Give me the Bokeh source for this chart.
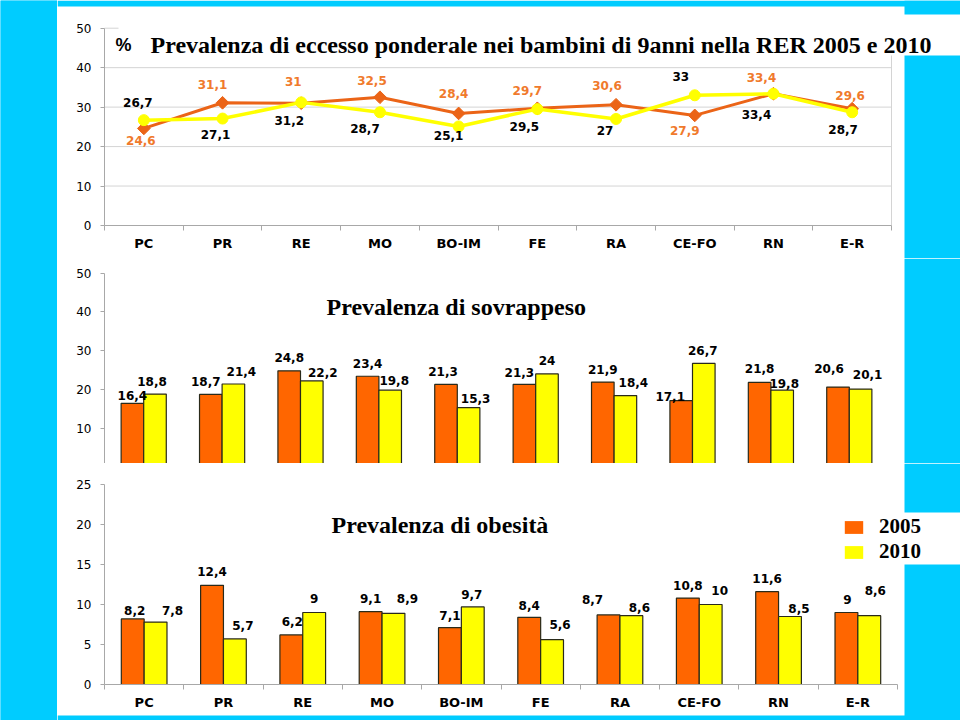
import numpy as np
from bokeh.plotting import figure
from bokeh.models import Range1d, LinearAxis, FixedTicker, Label, Legend, LegendItem
from bokeh.layouts import row, column
from bokeh.embed import file_html
from bokeh.resources import INLINE
from bokeh.core.properties import value

# ---------------- data ----------------
categories = ["PC", "PR", "RE", "MO", "BO-IM", "FE", "RA", "CE-FO", "RN", "E-R"]
years = ["2005", "2010"]
eccesso_2005 = [24.6, 31.1, 31, 32.5, 28.4, 29.7, 30.6, 27.9, 33.4, 29.6]
eccesso_2010 = [26.7, 27.1, 31.2, 28.7, 25.1, 29.5, 27, 33, 33.4, 28.7]
sovrappeso_2005 = [16.4, 18.7, 24.8, 23.4, 21.3, 21.3, 21.9, 17.1, 21.8, 20.6]
sovrappeso_2010 = [18.8, 21.4, 22.2, 19.8, 15.3, 24, 18.4, 26.7, 19.8, 20.1]
obesita_2005 = [8.2, 12.4, 6.2, 9.1, 7.1, 8.4, 8.7, 10.8, 11.6, 9]
obesita_2010 = [7.8, 5.7, 9, 8.9, 9.7, 5.6, 8.6, 10, 8.5, 8.6]
ticks_top = [0, 10, 20, 30, 40, 50]
ticks_mid = [0, 10, 20, 30, 40, 50]
ticks_bot = [0, 5, 10, 15, 20, 25]
title_top = "Prevalenza di eccesso ponderale nei bambini di 9anni nella RER 2005 e 2010"
title_mid = "Prevalenza di sovrappeso"
title_bot = "Prevalenza di obesità"

# ---------------- label offsets (style, px; dy positive = down) ----------------
off_top_2005 = [(-3, 12), (-10, -18), (-8, -22), (-8, -17), (-5, -20), (-10, -18), (-9, -19), (-10, 15), (-12, -16), (-2, -13)]
off_top_2010 = [(-6, -18), (-7, 16), (-12, 18), (-15, 16), (-10, 9), (-13, 17), (-11, 12), (-14, -19), (-17, 21), (-9, 17)]
off_mid_2005 = [(0, -8), (-5, -13), (0, -13), (0, -13), (-3, -13), (-5, -12), (0, -13), (-11, -4), (0, -14), (-9, -19)]
off_mid_2010 = [(-3, -13), (8, -12), (11, -8), (4, -10), (7, -9), (0, -13), (8, -13), (-1, -13), (2, -7), (7, -15)]
off_bot_2005 = [(2, -8), (0, -14), (1, -13), (0, -13), (0, -12), (0, -12), (-16, -15), (0, -13), (0, -13), (1, -13)]
off_bot_2010 = [(17, -12), (8, -13), (0, -14), (14, -15), (-1, -12), (8, -15), (8, -8), (9, -14), (9, -8), (6, -25)]

CYAN = "#00CCFF"
ORANGE = "#FF6600"
YELLOW = "#FFFF00"
ORANGE_LINE = "#EB6417"
ORANGE_TEXT = "#F07A2C"
OUTLINE = "#2A2A1A"
GRID = "#D4D4D4"
AXIS = "#A8A8A8"
SANS = "DejaVu Sans"
SERIF = "Liberation Serif"

W_PAGE, H_PAGE = 960, 720
STRIP_W = 57
AXIS_X = 104

n = len(categories)
xs = np.arange(1, n + 1)
bounds_x = (0.5, n + 0.5)


def fmt(v):
    return ("%g" % v).replace(".", ",")


def make_fig(top, bottom, zero, k, catw):
    fig = figure(width=W_PAGE - STRIP_W, height=bottom - top,
                 x_range=Range1d(0.5 - (AXIS_X - STRIP_W) / catw, 0.5 + (W_PAGE - AXIS_X) / catw),
                 y_range=Range1d((zero - bottom) / k, (zero - top) / k),
                 x_axis_type=None, y_axis_type=None, toolbar_location=None,
                 output_backend="svg", min_border=0,
                 background_fill_color="white", border_fill_color="white",
                 outline_line_color=None)
    fig.extra_x_ranges = {"px": Range1d(STRIP_W, W_PAGE)}
    fig.extra_y_ranges = {"px": Range1d(bottom, top)}
    return fig


def add_yaxis(fig, ticks):
    ax = LinearAxis(ticker=FixedTicker(ticks=ticks), bounds=(ticks[0], ticks[-1]),
                    fixed_location=bounds_x[0],
                    axis_line_color=AXIS, major_tick_line_color=AXIS,
                    major_tick_out=4, major_tick_in=0, minor_tick_line_color=None,
                    major_label_text_font=SANS, major_label_text_font_size="12px",
                    major_label_text_color="black", major_label_standoff=9)
    fig.add_layout(ax, "left")


def add_xaxis(fig):
    ax = LinearAxis(ticker=FixedTicker(ticks=list(xs), minor_ticks=list(np.arange(0.5, n + 1, 1.0))),
                    bounds=bounds_x, fixed_location=0,
                    major_label_overrides={int(x): c for x, c in zip(xs, categories)},
                    major_tick_line_color=None, minor_tick_out=5, minor_tick_in=0,
                    minor_tick_line_color=AXIS, axis_line_color=AXIS,
                    major_label_text_font=SANS, major_label_text_font_style="bold",
                    major_label_text_font_size="13px", major_label_text_color="black",
                    major_label_standoff=4)
    fig.add_layout(ax, "below")


def add_labels(fig, x, vals, offs, color):
    fig.text(x=list(x), y=vals, text=[fmt(v) for v in vals],
             x_offset=[o[0] for o in offs], y_offset=[o[1] for o in offs],
             text_align="center", text_baseline="middle",
             text_font=value(SANS), text_font_style="bold", text_font_size="12px",
             text_color=color)


def add_bars(fig, x, vals, color, W):
    r = fig.vbar(x=list(x), top=vals, bottom=0, width=W, fill_color=color, line_color=None)
    fig.vbar(x=list(x), top=vals, bottom=0, width=W, fill_color=None,
             line_color=OUTLINE, line_width=1.2)
    return r


def add_title(fig, x, y, text):
    fig.add_layout(Label(x=x, y=y, x_range_name="px", y_range_name="px", text=text,
                         text_font=SERIF, text_font_style="bold", text_font_size="24px",
                         text_baseline="alphabetic", text_align="left", text_color="black"))


def px_quad(fig, l, r, t, b, color):
    fig.quad(left=l, right=r, top=t, bottom=b, x_range_name="px", y_range_name="px",
             fill_color=color, line_color=None)


# ---------------- left cyan strip ----------------
strip = figure(width=STRIP_W, height=H_PAGE, x_range=Range1d(0, 1), y_range=Range1d(0, 1),
               x_axis_type=None, y_axis_type=None, toolbar_location=None,
               output_backend="svg", min_border=0, background_fill_color=CYAN,
               border_fill_color=CYAN, outline_line_color=None)
strip.quad(left=0, right=1, top=1, bottom=0, fill_color=CYAN, line_color=None)

# ---------------- top: line chart ----------------
pa = make_fig(0, 258, 225, 3.946, 78.7)
gy = ticks_top[1:]
pa.segment(x0=[bounds_x[0]] * len(gy), x1=[bounds_x[1]] * len(gy), y0=gy, y1=gy,
           line_color=GRID, line_width=1)
pa.segment(x0=[bounds_x[1]], x1=[bounds_x[1]], y0=[ticks_top[0]], y1=[ticks_top[-1]],
           line_color=GRID, line_width=1)
add_yaxis(pa, ticks_top)
add_xaxis(pa)
pa.line(list(xs), eccesso_2005, line_color=ORANGE_LINE, line_width=3)
pa.scatter(list(xs), eccesso_2005, marker="square", angle=np.pi / 4, size=9,
           fill_color=ORANGE_LINE, line_color=ORANGE_LINE)
pa.line(list(xs), eccesso_2010, line_color=YELLOW, line_width=3.5)
pa.scatter(list(xs), eccesso_2010, marker="circle", size=11,
           fill_color=YELLOW, line_color=YELLOW)
add_labels(pa, xs, eccesso_2005, off_top_2005, ORANGE_TEXT)
add_labels(pa, xs, eccesso_2010, off_top_2010, "black")
px_quad(pa, 118, W_PAGE, 14, 55, "white")
px_quad(pa, STRIP_W, W_PAGE, 0, 6, CYAN)
px_quad(pa, 904, W_PAGE, 0, 14, CYAN)
px_quad(pa, 904, W_PAGE, 55, 258, CYAN)
pa.add_layout(Label(x=115, y=44.5, x_range_name="px", y_range_name="px", text="%",
                    text_font="Liberation Sans", text_font_style="bold",
                    text_font_size="18px", text_baseline="alphabetic", text_align="left",
                    text_color="black"))
add_title(pa, 150, 44.5, title_top)

# ---------------- middle: sovrappeso ----------------
W = 0.288
pb = make_fig(258, 463, 466.4, 3.874, 78.4)
add_yaxis(pb, ticks_mid)
add_bars(pb, xs - W / 2, sovrappeso_2005, ORANGE, W)
add_bars(pb, xs + W / 2, sovrappeso_2010, YELLOW, W)
add_labels(pb, xs - W / 2, sovrappeso_2005, off_mid_2005, "black")
add_labels(pb, xs + W / 2, sovrappeso_2010, off_mid_2010, "black")
px_quad(pb, 904, W_PAGE, 258, 463, CYAN)
add_title(pb, 326, 306, title_mid)

# ---------------- bottom: obesita ----------------
pc = make_fig(463, H_PAGE, 684, 8.0, 79.3)
add_yaxis(pc, ticks_bot)
add_xaxis(pc)
r05 = add_bars(pc, xs - W / 2, obesita_2005, ORANGE, W)
r10 = add_bars(pc, xs + W / 2, obesita_2010, YELLOW, W)
add_labels(pc, xs - W / 2, obesita_2005, off_bot_2005, "black")
add_labels(pc, xs + W / 2, obesita_2010, off_bot_2010, "black")
px_quad(pc, 904, W_PAGE, 463, 512, CYAN)
px_quad(pc, 904, W_PAGE, 564, H_PAGE, CYAN)
px_quad(pc, STRIP_W, W_PAGE, 715, H_PAGE, CYAN)
add_title(pc, 331, 524, title_bot)
legend = Legend(items=[LegendItem(label=years[0], renderers=[r05], index=0),
                       LegendItem(label=years[1], renderers=[r10], index=0)],
                location=(842 - STRIP_W, H_PAGE - 564.4), padding=0, margin=0, spacing=0,
                glyph_width=23, glyph_height=16, label_standoff=14,
                label_text_font=SERIF, label_text_font_style="bold",
                label_text_font_size="21px", label_text_color="black",
                background_fill_color="white", background_fill_alpha=1.0,
                border_line_color=None)
pc.add_layout(legend)

layout = row(strip, column(pa, pb, pc, spacing=0), spacing=0)
open("out.html", "w").write(file_html(layout, INLINE))
